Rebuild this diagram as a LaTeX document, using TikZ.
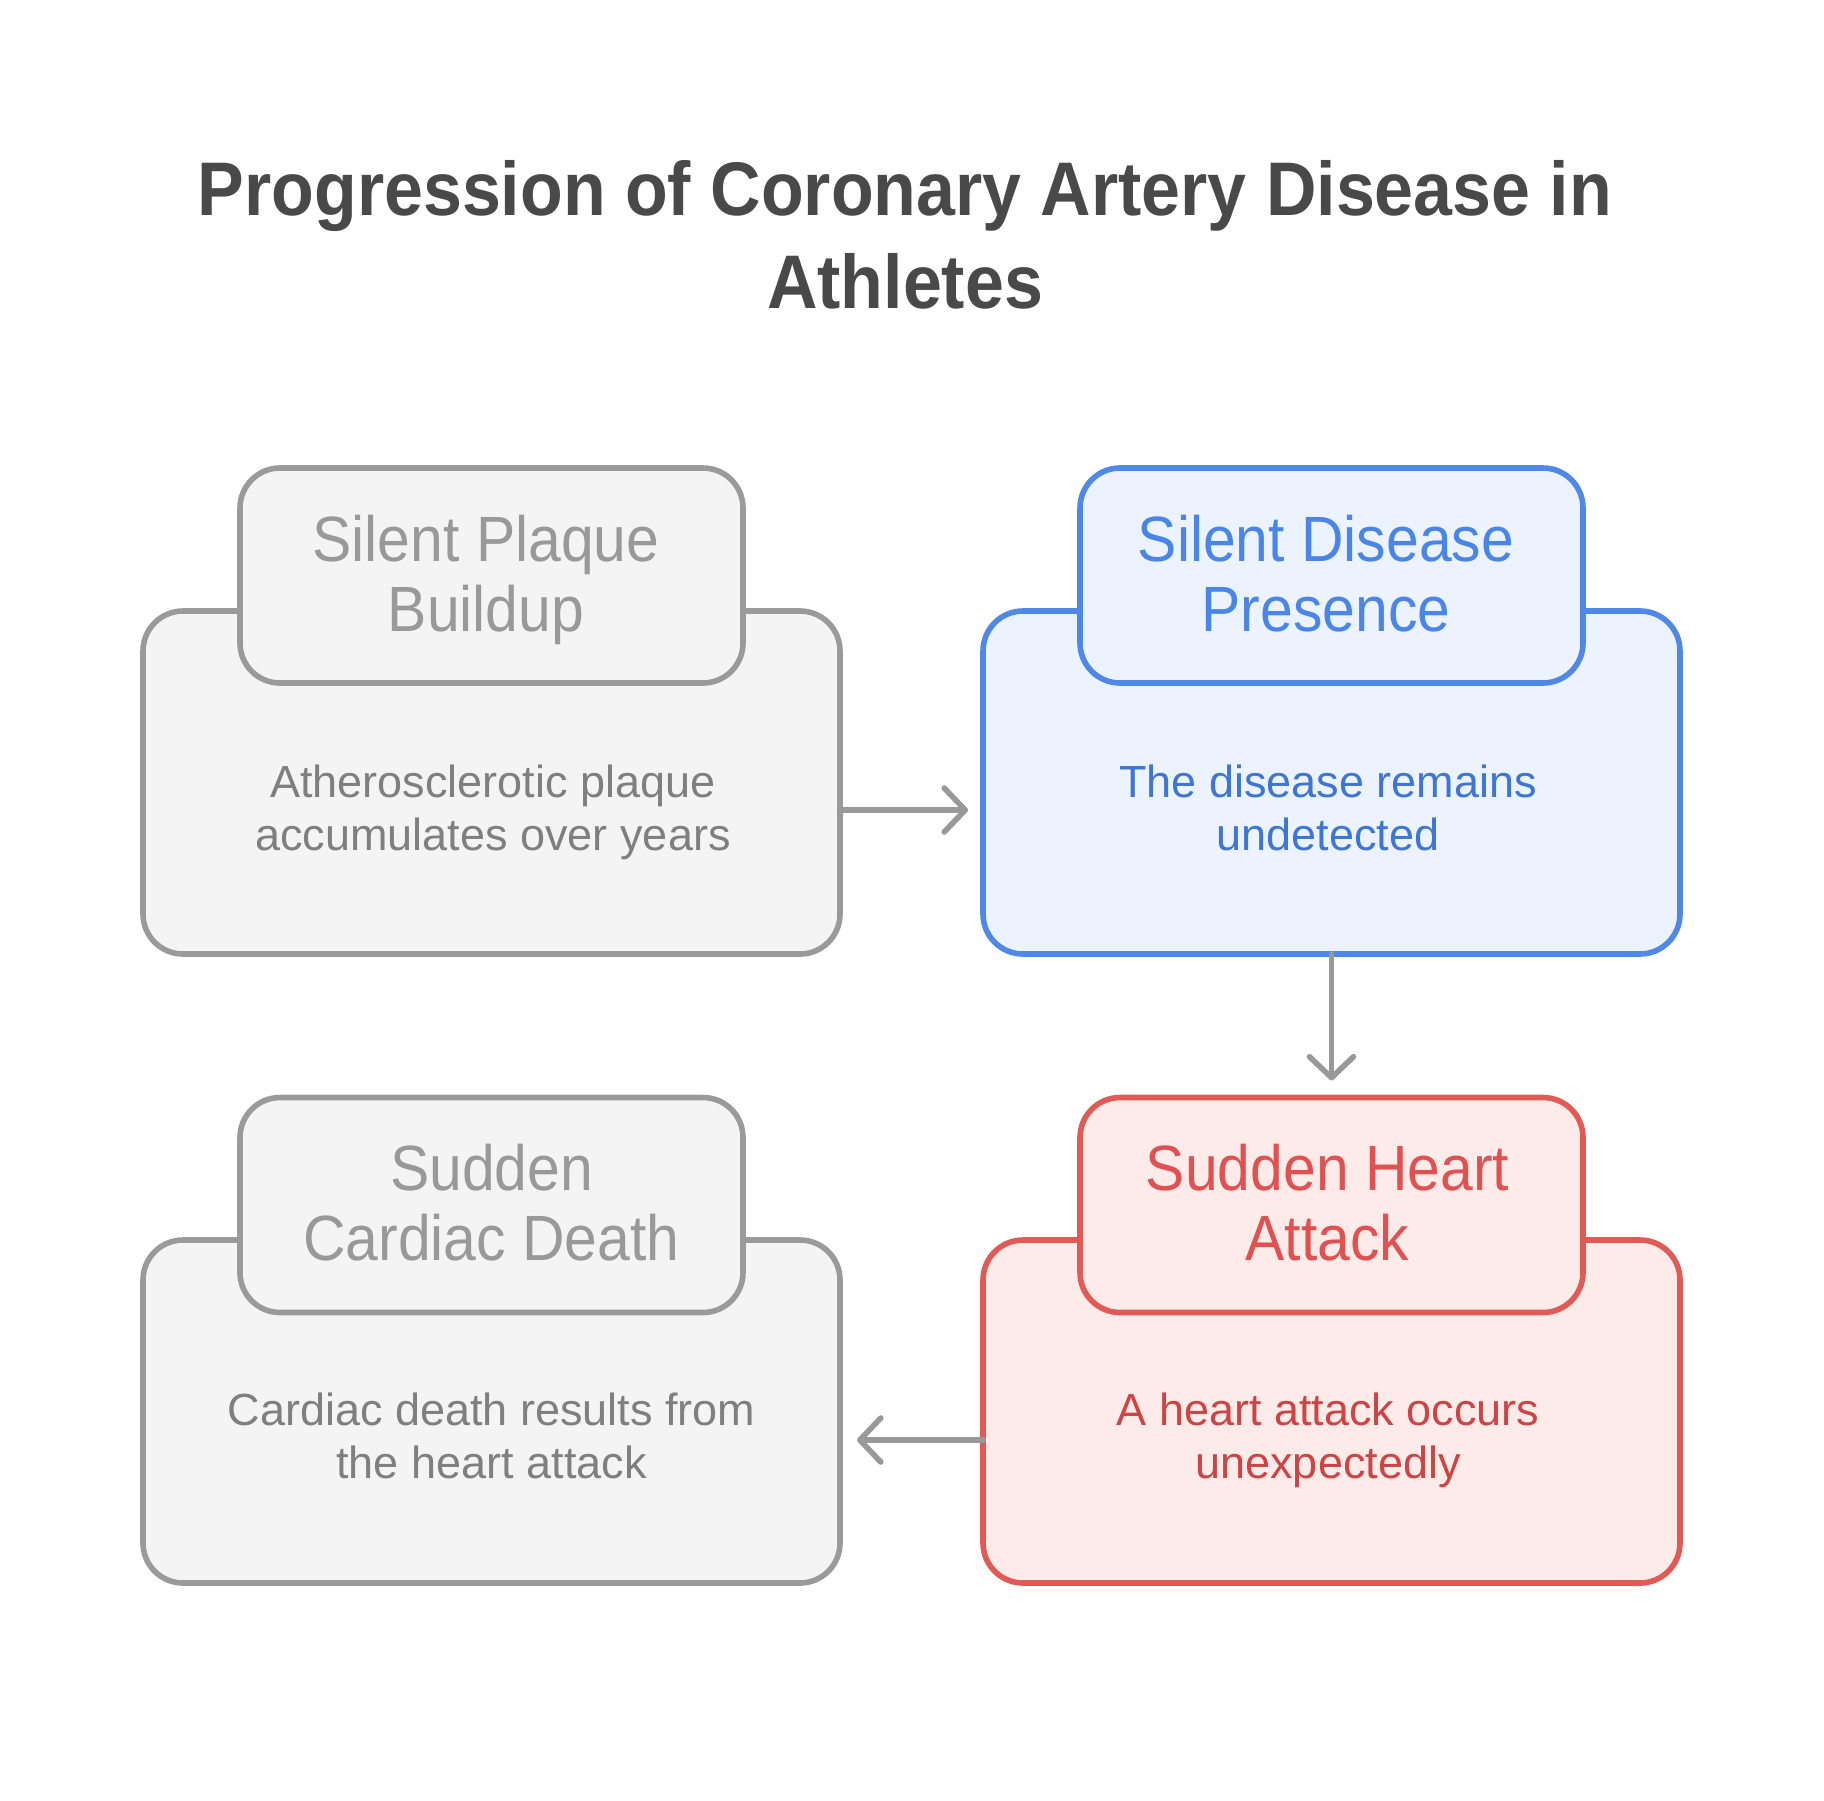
\documentclass[tikz,border=0pt]{standalone}
\usepackage{fontspec}
\setmainfont{Liberation Sans}
\newfontfamily\narrowfont[FakeStretch=0.92]{Liberation Sans}
\usetikzlibrary{arrows.meta}
\definecolor{titlecol}{HTML}{494949}
\definecolor{grayline}{HTML}{9A9A9A}
\definecolor{grayfill}{HTML}{F4F4F4}
\definecolor{grayhead}{HTML}{999999}
\definecolor{graybody}{HTML}{7F7F7F}
\definecolor{blueline}{HTML}{4F88E6}
\definecolor{bluefill}{HTML}{ECF3FE}
\definecolor{bluehead}{HTML}{4A86E8}
\definecolor{bluebody}{HTML}{3E76D4}
\definecolor{redline}{HTML}{E25A56}
\definecolor{redfill}{HTML}{FDEBEA}
\definecolor{redhead}{HTML}{E05252}
\definecolor{redbody}{HTML}{CC4444}
\definecolor{arrowcol}{HTML}{999999}
\begin{document}
\begin{tikzpicture}[x=0.5pt,y=-0.5pt,
  bigbox/.style={draw, rounded corners=20pt, line width=2.8pt, minimum width=348.5pt, minimum height=171.5pt, inner sep=0pt, outer sep=0pt},
  smallbox/.style={draw, rounded corners=20pt, line width=2.8pt, minimum width=251.5pt, minimum height=107.5pt, inner sep=0pt, outer sep=0pt},
  graybox/.style={draw=grayline, fill=grayfill},
  bluebox/.style={draw=blueline, fill=bluefill},
  redbox/.style={draw=redline, fill=redfill},
  titletext/.style={anchor=base, align=center, inner sep=0pt, text=titlecol, font=\narrowfont\fontsize{38pt}{46.5pt}\selectfont\bfseries},
  headtext/.style={anchor=base, align=center, inner sep=0pt, font=\narrowfont\fontsize{32pt}{35pt}\selectfont},
  bodytext/.style={anchor=base, align=center, inner sep=0pt, font=\fontsize{22.5pt}{26.5pt}\selectfont},
  arr/.style={draw=arrowcol, line width=2.8pt, line cap=round, -{Straight Barb[length=10.5pt,width=22pt,line cap=round,line join=round]}}
]
\useasboundingbox (0,0) rectangle (1824,1800);

\node[titletext] (title) at (905,308) {Progression of Coronary Artery Disease in\\Athletes};

% row 1 left
\node[bigbox, graybox] (bigA) at (491.5,782.5) {};
\node[smallbox, graybox] (smallA) at (491.5,575.5) {};
\node[headtext, text=grayhead] (headA) at (486,631) {Silent Plaque\\Buildup};
\node[bodytext, text=graybody] (bodyA) at (493,850) {Atherosclerotic plaque\\accumulates over years};

% row 1 right
\node[bigbox, bluebox] (bigB) at (1331.5,782.5) {};
\node[smallbox, bluebox] (smallB) at (1331.5,575.5) {};
\node[headtext, text=bluehead] (headB) at (1326,631) {Silent Disease\\Presence};
\node[bodytext, text=bluebody] (bodyB) at (1328,850) {The disease remains\\undetected};

% row 2 left
\node[bigbox, graybox] (bigC) at (491.5,1411.5) {};
\node[smallbox, graybox] (smallC) at (491.5,1205) {};
\node[headtext, text=grayhead] (headC) at (491.5,1260) {Sudden\\Cardiac Death};
\node[bodytext, text=graybody] (bodyC) at (491.5,1478) {Cardiac death results from\\the heart attack};

% row 2 right
\node[bigbox, redbox] (bigD) at (1331.5,1411.5) {};
\node[smallbox, redbox] (smallD) at (1331.5,1205) {};
\node[headtext, text=redhead] (headD) at (1327.5,1260) {Sudden Heart\\Attack};
\node[bodytext, text=redbody] (bodyD) at (1328,1478) {A heart attack occurs\\unexpectedly};

% connectors
\draw[arr] ([yshift=-13.75pt]bigA.east) -- ([xshift=-7.5pt,yshift=-13.75pt]bigB.west);
\draw[arr] (bigB.south) -- ([yshift=8.5pt]smallD.north);
\draw[arr] ([yshift=-14.25pt]bigD.west) -- ([xshift=8.5pt,yshift=-14.25pt]bigC.east);
\end{tikzpicture}
\end{document}
